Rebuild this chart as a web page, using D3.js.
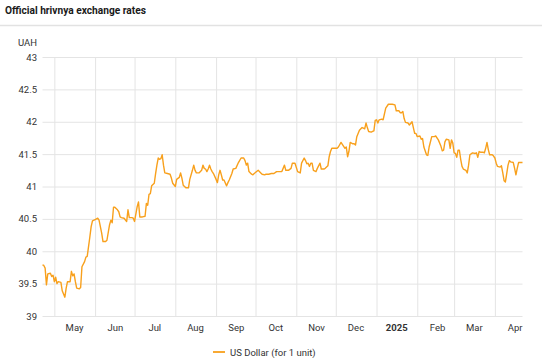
<!DOCTYPE html>
<html><head><meta charset="utf-8">
<script src="https://cdn.jsdelivr.net/npm/d3@7"></script>
<style>
body{margin:0;background:#fff;}
svg{display:block;font-family:Roboto, "Noto Sans", sans-serif;}
</style>
</head><body><svg id="c" width="542" height="358"></svg>
<script>
const title = "Official hrivnya exchange rates";
const unitLabel = "UAH";
const seriesName = "US Dollar (for 1 unit)";
const yTicks = [39, 39.5, 40, 40.5, 41, 41.5, 42, 42.5, 43];
const monthLabels = ["May","Jun","Jul","Aug","Sep","Oct","Nov","Dec","2025","Feb","Mar","Apr"];
const dates = [
"2024-04-22","2024-04-23","2024-04-24","2024-04-25","2024-04-26","2024-04-28","2024-04-29","2024-04-30",
"2024-05-01","2024-05-02","2024-05-03","2024-05-04","2024-05-06","2024-05-07","2024-05-09","2024-05-10",
"2024-05-11","2024-05-13","2024-05-14","2024-05-15","2024-05-16","2024-05-17","2024-05-18","2024-05-20",
"2024-05-21","2024-05-22","2024-05-24","2024-05-25","2024-05-26","2024-05-28","2024-05-29","2024-05-30",
"2024-06-01","2024-06-03","2024-06-04","2024-06-06","2024-06-07","2024-06-09","2024-06-10","2024-06-12",
"2024-06-13","2024-06-14","2024-06-15","2024-06-16","2024-06-18","2024-06-19","2024-06-20","2024-06-21",
"2024-06-23","2024-06-25","2024-06-26","2024-06-27","2024-06-29","2024-06-30","2024-07-01","2024-07-03",
"2024-07-04","2024-07-05","2024-07-07","2024-07-09","2024-07-10","2024-07-11","2024-07-12","2024-07-13",
"2024-07-14","2024-07-16","2024-07-17","2024-07-18","2024-07-19","2024-07-20","2024-07-21","2024-07-22",
"2024-07-23","2024-07-24","2024-07-26","2024-07-28","2024-07-29","2024-07-30","2024-08-01","2024-08-02",
"2024-08-04","2024-08-05","2024-08-06","2024-08-07","2024-08-09","2024-08-11","2024-08-12","2024-08-14",
"2024-08-15","2024-08-16","2024-08-17","2024-08-19","2024-08-21","2024-08-22","2024-08-23","2024-08-24",
"2024-08-25","2024-08-26","2024-08-27","2024-08-28","2024-08-29","2024-08-30","2024-09-01","2024-09-02",
"2024-09-03","2024-09-04","2024-09-05","2024-09-06","2024-09-07","2024-09-09","2024-09-10","2024-09-11",
"2024-09-13","2024-09-14","2024-09-16","2024-09-18","2024-09-20","2024-09-22","2024-09-23","2024-09-24",
"2024-09-25","2024-09-26","2024-09-28","2024-09-29","2024-09-30","2024-10-03","2024-10-05","2024-10-06",
"2024-10-08","2024-10-09","2024-10-11","2024-10-13","2024-10-15","2024-10-17","2024-10-20","2024-10-21",
"2024-10-23","2024-10-24","2024-10-26","2024-10-28","2024-10-29","2024-10-31","2024-11-02","2024-11-04",
"2024-11-05","2024-11-07","2024-11-08","2024-11-09","2024-11-10","2024-11-11","2024-11-12","2024-11-13",
"2024-11-14","2024-11-16","2024-11-17","2024-11-19","2024-11-20","2024-11-22","2024-11-23","2024-11-25",
"2024-11-26","2024-11-27","2024-11-28","2024-11-30","2024-12-02","2024-12-03","2024-12-05","2024-12-06",
"2024-12-08","2024-12-09","2024-12-10","2024-12-11","2024-12-12","2024-12-14","2024-12-15","2024-12-16",
"2024-12-17","2024-12-19","2024-12-21","2024-12-22","2024-12-23","2024-12-24","2024-12-25","2024-12-26",
"2024-12-28","2024-12-29","2024-12-30","2024-12-31","2025-01-01","2025-01-02","2025-01-03","2025-01-05",
"2025-01-06","2025-01-07","2025-01-08","2025-01-10","2025-01-12","2025-01-13","2025-01-15","2025-01-16",
"2025-01-18","2025-01-19","2025-01-20","2025-01-21","2025-01-22","2025-01-23","2025-01-25","2025-01-26",
"2025-01-28","2025-01-29","2025-01-30","2025-01-31","2025-02-01","2025-02-03","2025-02-04","2025-02-05",
"2025-02-06","2025-02-08","2025-02-09","2025-02-10","2025-02-12","2025-02-14","2025-02-15","2025-02-17",
"2025-02-19","2025-02-20","2025-02-21","2025-02-22","2025-02-23","2025-02-25","2025-02-26","2025-02-27",
"2025-02-28","2025-03-01","2025-03-02","2025-03-03","2025-03-04","2025-03-05","2025-03-06","2025-03-07",
"2025-03-08","2025-03-10","2025-03-11","2025-03-12","2025-03-13","2025-03-15","2025-03-17","2025-03-18",
"2025-03-19","2025-03-20","2025-03-21","2025-03-23","2025-03-24","2025-03-25","2025-03-26","2025-03-27",
"2025-03-28","2025-03-30","2025-03-31","2025-04-01","2025-04-02","2025-04-03","2025-04-05","2025-04-06",
"2025-04-07","2025-04-08","2025-04-09","2025-04-10","2025-04-11","2025-04-12","2025-04-13","2025-04-15",
"2025-04-16","2025-04-17","2025-04-18","2025-04-19","2025-04-21","2025-04-22"
];
const usd = [
39.79,39.78,39.74,39.48,39.65,39.66,39.61,39.63,
39.53,39.60,39.50,39.53,39.52,39.39,39.29,39.43,
39.53,39.53,39.69,39.62,39.65,39.53,39.43,39.42,
39.44,39.76,39.84,39.91,39.92,40.22,40.38,40.47,
40.49,40.51,40.48,40.28,40.15,40.15,40.17,40.41,
40.48,40.44,40.68,40.68,40.64,40.61,40.53,40.52,
40.51,40.46,40.64,40.52,40.52,40.51,40.46,40.69,
40.76,40.53,40.53,40.54,40.74,40.71,40.88,40.89,
41.01,41.05,41.20,41.33,41.44,41.42,41.43,41.49,
41.33,41.21,41.20,41.19,41.13,41.05,41.00,41.11,
41.14,41.21,41.13,41.02,40.98,40.98,41.11,41.25,
41.33,41.25,41.21,41.21,41.25,41.33,41.28,41.27,
41.23,41.27,41.33,41.27,41.23,41.20,41.11,41.06,
41.18,41.25,41.18,41.10,41.10,41.01,41.06,41.10,
41.20,41.27,41.28,41.37,41.44,41.44,41.40,41.33,
41.36,41.23,41.19,41.18,41.20,41.25,41.21,41.19,
41.18,41.19,41.19,41.20,41.20,41.23,41.23,41.23,
41.33,41.25,41.25,41.28,41.36,41.36,41.23,41.21,
41.36,41.44,41.40,41.35,41.36,41.31,41.36,41.36,
41.25,41.23,41.28,41.36,41.27,41.27,41.28,41.32,
41.46,41.54,41.59,41.59,41.59,41.61,41.68,41.65,
41.59,41.61,41.46,41.54,41.68,41.66,41.66,41.64,
41.77,41.87,41.91,41.90,41.89,41.98,41.91,41.85,
41.84,41.85,41.86,42.02,42.03,41.98,42.03,42.04,
42.03,42.12,42.21,42.27,42.27,42.27,42.26,42.17,
42.17,42.14,42.14,42.16,42.05,41.99,41.98,41.95,
42.00,41.91,41.82,41.82,41.77,41.78,41.73,41.74,
41.61,41.49,41.48,41.61,41.77,41.77,41.78,41.72,
41.62,41.55,41.56,41.69,41.73,41.72,41.59,41.72,
41.67,41.52,41.51,41.45,41.56,41.56,41.42,41.31,
41.27,41.25,41.21,41.33,41.49,41.52,41.51,41.52,
41.45,41.54,41.53,41.53,41.52,41.59,41.68,41.57,
41.49,41.49,41.47,41.44,41.36,41.31,41.30,41.32,
41.21,41.09,41.07,41.20,41.33,41.40,41.38,41.37,
41.28,41.18,41.28,41.37,41.37,41.37
];

const parse = d3.utcParse("%Y-%m-%d");
const data = dates.map((d, i) => ({date: parse(d), value: usd[i]}));

const W = 542, H = 358;
const plotL = 42.5, plotR = 522.5, plotT = 57, plotB = 316;
const svg = d3.select("#c");

const x = d3.scaleUtc().domain([parse("2024-04-22"), parse("2025-04-22")]).range([plotL, plotR]);
const y = d3.scaleLinear().domain([39, 43]).range([plotB, plotT]);

// title + separator
svg.append("text").attr("x", 5).attr("y", 14)
  .attr("font-size", 11.5).attr("font-weight", "bold").attr("fill", "#1a1a1a")
  .attr("textLength", 141).attr("lengthAdjust", "spacingAndGlyphs")
  .text(title);
svg.append("line").attr("x1", 0).attr("x2", W).attr("y1", 25.5).attr("y2", 25.5)
  .attr("stroke", "#e2e2e2").attr("stroke-width", 1.5);

// unit
svg.append("text").attr("x", 37).attr("y", 46).attr("text-anchor", "end")
  .attr("font-size", 9.5).attr("fill", "#333").text(unitLabel);

// y axis with gridlines
const yAxis = svg.append("g").attr("transform", `translate(${plotL},0)`)
  .call(d3.axisLeft(y).tickValues(yTicks).tickSize(-(plotR - plotL)).tickPadding(5.5)
    .tickFormat(d3.format("")));
yAxis.select(".domain").remove();
yAxis.selectAll(".tick line").attr("stroke", "#e4e4e4");
yAxis.selectAll(".tick text").attr("font-size", 9.5).attr("fill", "#333")
  .attr("font-family", "Roboto, sans-serif");

// vertical month gridlines
const monthStarts = d3.utcMonth.range(parse("2024-05-01"), parse("2025-04-02"));
const xGrid = svg.append("g").attr("transform", `translate(0,${plotB})`)
  .call(d3.axisBottom(x).tickValues(monthStarts).tickSize(-(plotB - plotT)).tickFormat(""));
xGrid.select(".domain").remove();
xGrid.selectAll(".tick line").attr("stroke", "#e4e4e4");

// month labels at mid-month
const midMonths = monthStarts.map(m => d3.utcDay.offset(m, 15));
const xAxis = svg.append("g").attr("transform", `translate(0,${plotB})`)
  .call(d3.axisBottom(x).tickValues(midMonths).tickSize(0).tickPadding(8)
    .tickFormat((d, i) => monthLabels[i]));
xAxis.select(".domain").remove();
xAxis.selectAll(".tick text").attr("font-size", 9.5).attr("fill", "#333")
  .attr("font-family", "Roboto, sans-serif")
  .attr("font-weight", (d, i) => monthLabels[i] === "2025" ? "bold" : "normal");

// line
const line = d3.line().x(d => x(d.date)).y(d => y(d.value));
svg.append("path").datum(data).attr("d", line)
  .attr("fill", "none").attr("stroke", "#f8a01c").attr("stroke-width", 1.4)
  .attr("stroke-linejoin", "round");

// legend
svg.append("line").attr("x1", 213).attr("x2", 225).attr("y1", 352).attr("y2", 352)
  .attr("stroke", "#f8a01c").attr("stroke-width", 1.8);
svg.append("text").attr("x", 230).attr("y", 355.5).attr("font-size", 9.5).attr("fill", "#333")
  .text(seriesName);
</script>
</body></html>
